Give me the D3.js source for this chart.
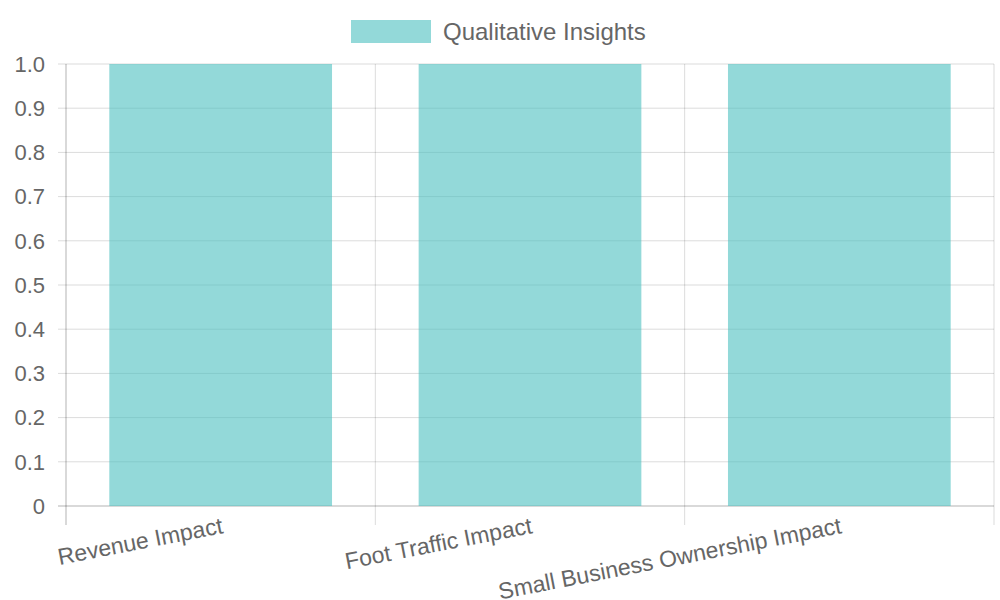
<!DOCTYPE html>
<html><head><meta charset="utf-8">
<script src="https://cdn.jsdelivr.net/npm/d3@7/dist/d3.min.js"></script>
<style>body{margin:0;background:#fff}svg{font-family:"Liberation Sans",Arial,sans-serif}</style>
</head><body><svg id="c" width="1000" height="600"></svg>
<script>
const categories=["Revenue Impact","Foot Traffic Impact","Small Business Ownership Impact"];
const values=[1,1,1];
const seriesName="Qualitative Insights";
const yTicks=[0,0.1,0.2,0.3,0.4,0.5,0.6,0.7,0.8,0.9,1.0];

const svg=d3.select("#c");
const L=66,R=994,T=64,B=506;
const x=d3.scaleBand().domain(categories).range([L,R]);
const y=d3.scaleLinear().domain([0,1]).range([B,T]);
const grid="rgba(0,0,0,0.14)";
svg.selectAll(".hg").data(yTicks).join("line").attr("x1",L-8).attr("x2",R)
 .attr("y1",d=>y(d)).attr("y2",d=>y(d)).attr("stroke",d=>d===0?"rgba(0,0,0,0.3)":grid);
const vx=categories.map(c=>x(c)).concat([R]);
svg.selectAll(".vg").data(vx).join("line").attr("x1",d=>d).attr("x2",d=>d)
 .attr("y1",T).attr("y2",B+19).attr("stroke",(d,i)=>i===0?"rgba(0,0,0,0.3)":grid);
svg.selectAll(".yl").data(yTicks).join("text").attr("x",L-21).attr("y",d=>y(d)).attr("dy","0.35em")
 .attr("text-anchor","end").attr("font-size",22).attr("fill","#666").text(d=>d===0?"0":d.toFixed(1));
const bw=x.bandwidth()*0.72;
svg.selectAll(".bar").data(values).join("rect")
 .attr("x",(d,i)=>x(categories[i])+x.bandwidth()/2-bw/2).attr("width",bw)
 .attr("y",d=>y(d)).attr("height",d=>B-y(d)).attr("fill","rgba(75,192,192,0.6)");
svg.selectAll(".xl").data(categories).join("text")
 .attr("transform",d=>`translate(${x(d)+x.bandwidth()/2},${516}) rotate(-11)`)
 .attr("text-anchor","end").attr("dy","0.75em").attr("font-size",23).attr("fill","#666").text(d=>d);
svg.append("rect").attr("x",351).attr("y",20).attr("width",80).attr("height",23).attr("fill","rgba(75,192,192,0.6)");
svg.append("text").attr("x",443).attr("y",32).attr("dy","0.35em").attr("font-size",24).attr("fill","#666").text(seriesName);
</script></body></html>
